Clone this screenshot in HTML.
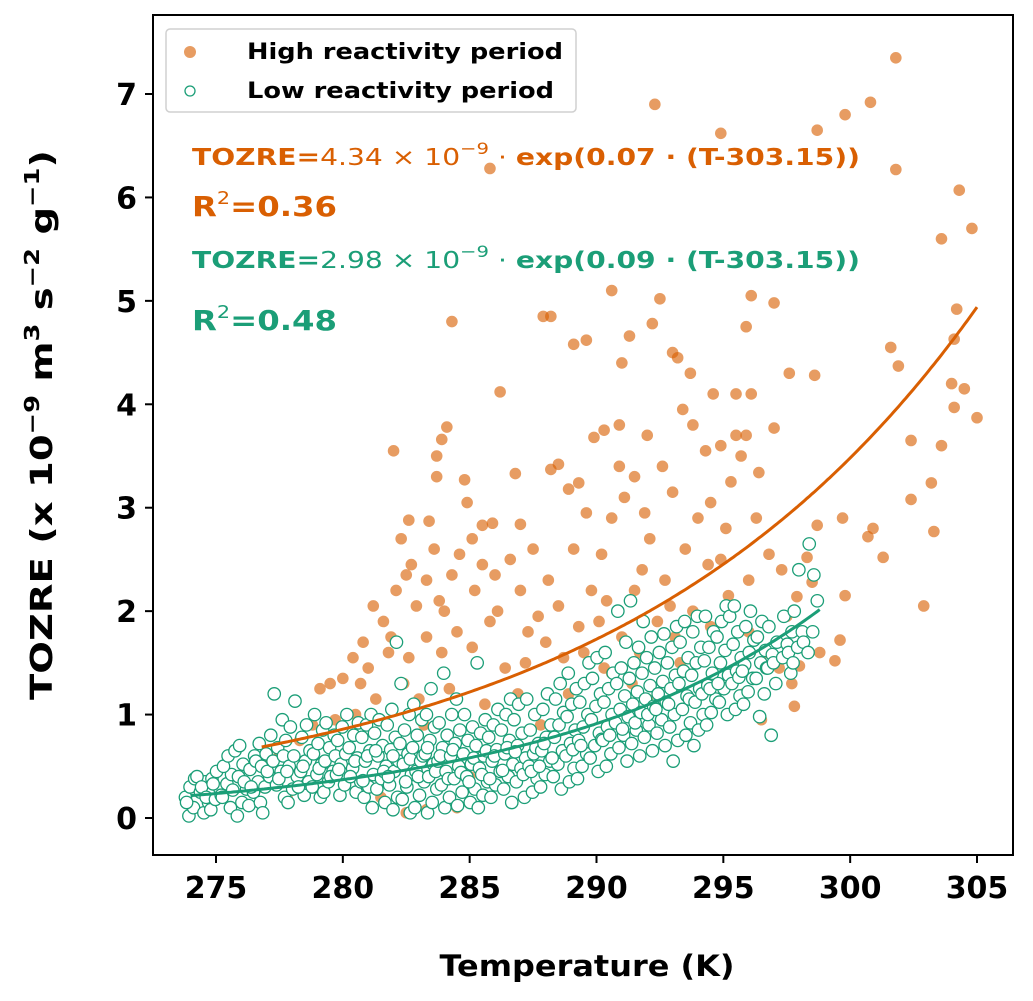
<!DOCTYPE html>
<html><head><meta charset="utf-8"><style>
html,body{margin:0;padding:0;background:#fff;}
svg{display:block;font-family:"DejaVu Sans","Liberation Sans",sans-serif;}
</style></head><body>
<svg id="chart" width="1033" height="1001" viewBox="0 0 1033 1001">
<g id="marks"></g>
<rect x="153" y="15" width="860" height="840" fill="none" stroke="#000" stroke-width="2"/>
<g id="axes"></g>
<g>
<rect x="166" y="29" width="410" height="83" rx="4" fill="#fff" fill-opacity="0.85" stroke="#d0d0d0" stroke-width="1.5"/>
<circle cx="190" cy="52" r="6" fill="rgba(217,95,2,0.62)"/>
<text x="247" y="59" font-size="22" font-weight="bold" textLength="316" lengthAdjust="spacingAndGlyphs">High reactivity period</text>
<circle cx="190" cy="91" r="5" fill="#fff" stroke="#1b9e77" stroke-width="1.3"/>
<text x="247" y="98" font-size="22" font-weight="bold" textLength="307" lengthAdjust="spacingAndGlyphs">Low reactivity period</text>
</g>
<text x="192" y="165" font-size="23" fill="#d95f02" font-weight="bold" textLength="668" lengthAdjust="spacingAndGlyphs">TOZRE=<tspan font-weight="normal">4.34 × 10</tspan><tspan font-weight="normal" font-size="16" dy="-11">−9</tspan><tspan dy="11" font-weight="normal"> · </tspan>exp(0.07 · (T-303.15))</text>
<text x="192" y="216" font-size="28" fill="#d95f02" font-weight="bold" textLength="145" lengthAdjust="spacingAndGlyphs">R<tspan font-size="18" font-weight="normal" dy="-12">2</tspan><tspan dy="12">=0.36</tspan></text>
<text x="192" y="268" font-size="23" fill="#1b9e77" font-weight="bold" textLength="668" lengthAdjust="spacingAndGlyphs">TOZRE=<tspan font-weight="normal">2.98 × 10</tspan><tspan font-weight="normal" font-size="16" dy="-11">−9</tspan><tspan dy="11" font-weight="normal"> · </tspan>exp(0.09 · (T-303.15))</text>
<text x="192" y="330" font-size="28" fill="#1b9e77" font-weight="bold" textLength="145" lengthAdjust="spacingAndGlyphs">R<tspan font-size="18" font-weight="normal" dy="-12">2</tspan><tspan dy="12">=0.48</tspan></text>
<text x="587" y="976" font-size="29" font-weight="bold" text-anchor="middle" textLength="295" lengthAdjust="spacingAndGlyphs">Temperature (K)</text>
<text transform="translate(52,425) rotate(-90)" font-size="30" font-weight="bold" text-anchor="middle" textLength="550" lengthAdjust="spacingAndGlyphs">TOZRE (x 10<tspan font-size="20" dy="-13">−9</tspan><tspan dy="13"> m</tspan><tspan font-size="20" dy="-13">3</tspan><tspan dy="13"> s</tspan><tspan font-size="20" dy="-13">−2</tspan><tspan dy="13"> g</tspan><tspan font-size="20" dy="-13">−1</tspan><tspan dy="13">)</tspan></text>
</svg>
<script>
const xTicks=[275,280,285,290,295,300,305];
const yTicks=[0,1,2,3,4,5,6,7];
const highFit=[4.34,0.07,303.15,276.8,305];
const lowFit=[2.98,0.09,303.15,274,298.8];
const highT=[301.8,292.3,300.8,299.8,298.7,294.9,285.8,301.8,304.3,304.8,303.6,290.6,292.5,296.1,297,284.3,288.2,295.9,292.2,304.2,304.1,301.6,301.9,297.6,298.6,304,304.5,305,304.1,303.6,302.4,302.4,303.2,303.3,302.9,301.3,300.9,300.7,299.7,299.8,299.6,299.4,298.7,298.5,298.8,298.3,297.9,297.5,297.7,297.8,298,297,296.4,295.9,295.5,294.6,293.7,293.2,293,291.3,291,290.9,289.6,289.1,287.9,286.2,284.1,283.9,283.7,283.7,282,282.6,283.4,282.3,284.8,285.1,285.5,286.8,287,288.2,288.5,288.9,289.3,289.9,290.3,290.9,291.1,291.5,292,292.6,293.4,293.8,294.3,294.9,295.3,295.7,296.3,296.8,295.1,294.4,293.5,292.7,291.8,290.6,290.2,289.8,289.3,288.5,287.7,287,286.6,286,285.5,285.2,284.6,284.3,283.8,283.3,282.9,282.5,282.1,281.6,281.2,280.8,280.4,280,279.5,279.1,278.8,281,281.8,282.6,283.3,283.9,284.5,285.1,285.8,286.4,287.2,288,288.7,289.5,290.3,291,291.7,292.4,293.1,293.8,294.5,295.2,296,296.7,297.2,291.4,292,288.9,286.9,285.6,284.2,283,282.4,281.3,280.5,279.7,278.3,277.5,277,276.7,277.8,281.5,282.5,283.3,284.5,286.7,285,283.2,287.8,290.6,293.3,294.2,295.8,296.5,294,292.1,290.4,289.1,288.1,287.5,285.9,284.9,283.6,282.7,289.6,291.9,293,294.5,295.5,296.1,287.3,286.1,284,281.9,280.7,290.1,291.5,292.9,294.9,296,297.3];
const highV=[7.35,6.9,6.92,6.8,6.65,6.62,6.28,6.27,6.07,5.7,5.6,5.1,5.02,5.05,4.98,4.8,4.85,4.75,4.78,4.92,4.63,4.55,4.37,4.3,4.28,4.2,4.15,3.87,3.97,3.6,3.65,3.08,3.24,2.77,2.05,2.52,2.8,2.72,2.9,2.15,1.72,1.52,2.83,2.28,1.6,2.52,2.14,1.95,1.3,1.08,1.47,3.77,3.34,3.7,4.1,4.1,4.3,4.45,4.5,4.66,4.4,3.8,4.62,4.58,4.85,4.12,3.78,3.66,3.5,3.3,3.55,2.88,2.87,2.7,3.27,2.7,2.83,3.33,2.84,3.37,3.42,3.18,3.24,3.68,3.75,3.4,3.1,3.3,3.7,3.4,3.95,3.8,3.55,3.6,3.25,3.5,2.9,2.55,2.8,2.45,2.6,2.3,2.4,2.9,2.55,2.2,1.85,2.05,1.95,2.2,2.5,2.35,2.45,2.2,2.55,2.35,2.1,2.3,2.05,2.35,2.2,1.9,2.05,1.7,1.55,1.35,1.3,1.25,0.9,1.45,1.6,1.55,1.75,1.6,1.8,1.65,1.9,1.45,1.5,1.7,1.55,1.6,1.45,1.75,1.6,1.9,1.75,2.0,1.85,2.15,1.8,1.6,1.45,1.3,1.15,1.2,1.2,1.1,1.25,1.15,1.3,1.15,1.0,0.95,0.75,0.62,0.55,0.3,0.2,0.2,0.05,0.08,0.1,0.15,0.4,0.9,0.9,1.4,1.5,1.25,1.2,0.95,2.9,2.7,2.1,2.6,2.3,2.6,2.85,3.05,2.6,2.45,2.95,2.95,3.15,3.05,3.7,4.1,1.8,2.0,2.0,1.75,1.3,1.9,2.2,2.05,2.5,2.3,2.4];
const lowTemps=[274,274.5,275,275.5,276,276.5,277,277.5,278,278.5,279,279.5,280,280.5,281,281.5,282,282.5,283,283.5,284,284.5,285,285.5,286,286.5,287,287.5,288,288.5,289,289.5,290,290.5,291,291.5,292,292.5,293,293.5,294,294.5,295,295.5,296,296.5,297,297.5,298,298.5];
const lowVals=[[0.02,0.1,0.2,0.3,0.38,0.15],[0.05,0.15,0.25,0.35,0.4,0.3,0.2],[0.08,0.18,0.28,0.38,0.45,0.22,0.33],[0.1,0.2,0.33,0.42,0.5,0.6,0.27],[0.02,0.15,0.28,0.4,0.52,0.65,0.7,0.35],[0.12,0.25,0.35,0.47,0.6,0.72,0.3,0.55],[0.15,0.3,0.4,0.5,0.62,0.8,0.05,0.45],[0.2,0.32,0.45,0.55,0.68,0.95,1.2,0.38,0.6],[0.15,0.28,0.4,0.5,0.6,0.75,0.88,1.13,0.45],[0.22,0.35,0.45,0.55,0.65,0.78,0.9,0.3,0.5],[0.2,0.3,0.42,0.52,0.62,0.72,0.85,1.0,0.48],[0.25,0.35,0.45,0.55,0.68,0.8,0.92,0.4,0.6],[0.22,0.32,0.42,0.52,0.62,0.75,0.88,1.0,0.47],[0.25,0.35,0.48,0.58,0.68,0.8,0.92,0.4,0.55],[0.1,0.2,0.3,0.42,0.55,0.65,0.78,0.9,1.0,0.36,0.6],[0.15,0.28,0.38,0.5,0.6,0.7,0.82,0.95,0.45,0.65],[0.08,0.2,0.32,0.45,0.55,0.66,0.78,0.9,1.05,1.7,0.4,0.6],[0.05,0.18,0.3,0.42,0.52,0.62,0.72,0.85,1.0,1.3,0.35,0.57],[0.1,0.22,0.35,0.45,0.55,0.68,0.8,0.95,1.1,0.4,0.6],[0.05,0.15,0.28,0.4,0.52,0.62,0.75,0.88,1.0,1.25,0.45,0.68],[0.1,0.2,0.32,0.45,0.55,0.68,0.8,0.92,1.4,0.38,0.6],[0.12,0.25,0.38,0.5,0.6,0.72,0.85,1.0,1.15,0.44,0.66],[0.15,0.28,0.4,0.52,0.62,0.75,0.88,1.0,0.35,0.58],[0.1,0.22,0.35,0.48,0.6,0.7,0.82,0.95,1.5,0.42,0.65],[0.2,0.32,0.45,0.55,0.66,0.78,0.9,1.05,0.38,0.6],[0.15,0.28,0.4,0.52,0.62,0.75,0.85,1.0,1.15,0.46,0.68],[0.2,0.35,0.48,0.58,0.7,0.82,0.95,1.1,0.42,0.64],[0.25,0.38,0.5,0.62,0.72,0.85,1.0,1.15,0.45,0.68],[0.3,0.42,0.55,0.65,0.78,0.9,1.05,1.2,0.5,0.72],[0.28,0.4,0.52,0.65,0.78,0.9,1.02,1.15,1.3,0.58],[0.35,0.48,0.6,0.72,0.85,0.98,1.1,1.25,1.4,0.66],[0.38,0.5,0.62,0.75,0.88,1.0,1.12,1.3,1.5,0.7],[0.45,0.58,0.7,0.82,0.95,1.08,1.2,1.35,1.55,0.76],[0.5,0.62,0.75,0.88,1.0,1.12,1.25,1.4,1.6,0.8],[0.55,0.68,0.8,0.92,1.05,1.18,1.3,1.45,1.7,2.0,0.86],[0.6,0.72,0.85,0.98,1.1,1.22,1.35,1.5,1.65,2.1,0.92],[0.65,0.78,0.9,1.02,1.15,1.28,1.4,1.55,1.75,1.9,1.0],[0.7,0.82,0.95,1.08,1.2,1.32,1.45,1.6,1.78,1.05],[0.55,0.75,0.88,1.0,1.12,1.25,1.38,1.5,1.65,1.85,1.1],[0.8,0.92,1.05,1.18,1.3,1.42,1.55,1.7,1.9,1.15],[0.7,0.85,1.0,1.12,1.25,1.38,1.5,1.65,1.8,1.95,1.2],[0.9,1.02,1.15,1.28,1.4,1.52,1.65,1.8,1.95,1.25],[1.0,1.12,1.25,1.38,1.5,1.62,1.75,1.9,2.05,1.3],[1.05,1.18,1.3,1.42,1.55,1.68,1.8,1.95,2.05,1.36],[1.1,1.22,1.35,1.48,1.6,1.72,1.85,2.0,1.42],[0.98,1.2,1.35,1.5,1.62,1.75,1.9,1.45],[0.8,1.3,1.45,1.58,1.7,1.85,1.5],[1.4,1.55,1.68,1.8,1.95,1.6],[1.5,1.65,1.8,2.0,2.4,1.7],[1.6,1.8,2.1,2.65,2.35]];

const NS='http://www.w3.org/2000/svg';
const X0=153,X1=1013,Y0=855,Y1=15;
function xs(t){return 216+(t-275)*(977-216)/30;}
function ys(v){return 818-v*(818-94)/7;}
function mk(tag,attrs,parent){const e=document.createElementNS(NS,tag);for(const k in attrs)e.setAttribute(k,attrs[k]);parent.appendChild(e);return e;}
const marks=document.getElementById('marks');
const axes=document.getElementById('axes');

for(let i=0;i<highT.length;i++){
  const c=mk('circle',{cx:xs(highT[i]),cy:ys(highV[i]),r:5.8,fill:'rgba(217,95,2,0.62)'},marks);
  
  
}
let k=0;
for(let i=0;i<lowTemps.length;i++){
  for(let j=0;j<lowVals[i].length;j++){
    k++;
    const jit=((k*37)%11)/11*0.5-0.25;
    const c=mk('circle',{cx:xs(lowTemps[i]+jit),cy:ys(lowVals[i][j]),r:6.2,fill:'#fff',stroke:'#1b9e77','stroke-width':1.3},marks);
    
    
  }
}
function fitPath(p){let d='';for(let t=p[3];t<=p[4]+1e-9;t+=0.1){const v=p[0]*Math.exp(p[1]*(t-p[2]));d+=(d?'L':'M')+xs(t).toFixed(1)+','+ys(v).toFixed(1);}return d;}
const hf=mk('path',{d:fitPath(highFit),fill:'none',stroke:'#d95f02','stroke-width':3},marks);


const lf=mk('path',{d:fitPath(lowFit),fill:'none',stroke:'#1b9e77','stroke-width':3},marks);



for(const t of xTicks){
  const x=xs(t);
  const l=mk('line',{x1:x,x2:x,y1:Y0,y2:Y0+8,stroke:'#000','stroke-width':2},axes);
  
  
  const tx=mk('text',{x:x,y:Y0+43,'font-size':30,'font-weight':'bold','text-anchor':'middle'},axes);
  tx.textContent=t;
  
  
}
for(const v of yTicks){
  const y=ys(v);
  const l=mk('line',{x1:X0-8,x2:X0,y1:y,y2:y,stroke:'#000','stroke-width':2},axes);
  
  
  const tx=mk('text',{x:X0-16,y:y+11,'font-size':30,'font-weight':'bold','text-anchor':'end'},axes);
  tx.textContent=v;
  
  
}
</script>
</body></html>
